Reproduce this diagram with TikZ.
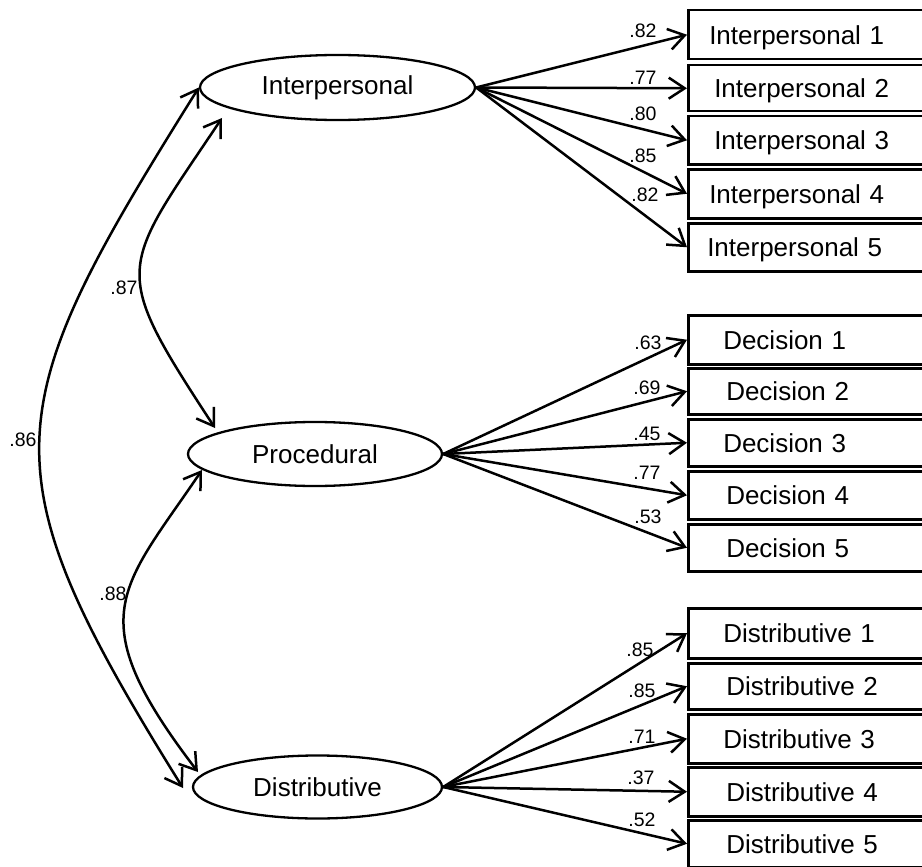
\documentclass[tikz,border=0pt]{standalone}
\usepackage{fontspec}
\setmainfont{Liberation Sans}
\usetikzlibrary{arrows.meta,shapes.geometric}
\begin{document}
\begin{tikzpicture}[x=1pt,y=-1pt,
  lat/.style={draw, ellipse, line width=2.3pt, inner sep=0pt, font=\fontsize{26}{30}\selectfont},
  box/.style n args={2}{draw, line width=2.5pt, anchor=north west, inner ysep=0pt,
     inner xsep=#1pt, text width=200pt, align=left, minimum height=#2pt,
     text depth=0pt, font=\fontsize{26}{30}\selectfont},
  lbl/.style={font=\fontsize{19.5}{21}\selectfont, inner sep=0pt},
  tipa/.tip={Straight Barb[length=16pt, width=21pt]},
  load/.style={line width=2.5pt, -tipa},
  cov/.style={line width=2.5pt, tipa-tipa}
]
\useasboundingbox (0,0) rectangle (922,867);
\clip (0,0) rectangle (922,867);

% latent variables
\node[lat, minimum width=275pt, minimum height=65pt] (int) at (337.5,87.5) {Interpersonal};
\node[lat, minimum width=254pt, minimum height=64pt] (pro) at (315,454) {Procedural};
\node[lat, minimum width=249pt, minimum height=63pt] (dis) at (317.5,787) {Distributive};

% indicators
\node[box={21}{49}] (i1) at (687,9)   {Interpersonal 1};
\node[box={26}{46}] (i2) at (687,64)  {Interpersonal 2};
\node[box={26}{48}] (i3) at (687,115) {Interpersonal 3};
\node[box={21}{49}] (i4) at (687,168) {Interpersonal 4};
\node[box={19}{48}] (i5) at (687,222) {Interpersonal 5};

\node[box={35}{49}] (d1) at (687,314) {Decision 1};
\node[box={38}{46}] (d2) at (687,367) {Decision 2};
\node[box={35}{47}] (d3) at (687,418) {Decision 3};
\node[box={38}{48}] (d4) at (687,470) {Decision 4};
\node[box={38}{47}] (d5) at (687,523) {Decision 5};

\node[box={35}{50}] (s1) at (687,607) {Distributive 1};
\node[box={38}{46}] (s2) at (687,662) {Distributive 2};
\node[box={35}{49}] (s3) at (687,713) {Distributive 3};
\node[box={38}{49}] (s4) at (687,766) {Distributive 4};
\node[box={38}{47}] (s5) at (687,819) {Distributive 5};

% loadings
\draw[load] (int.east) -- (i1.west) node[lbl] at (643,31)  {.82};
\draw[load] (int.east) -- (i2.west) node[lbl] at (643,78)  {.77};
\draw[load] (int.east) -- (i3.west) node[lbl] at (643,114) {.80};
\draw[load] (int.east) -- (i4.west) node[lbl] at (643,156) {.85};
\draw[load] (int.east) -- (i5.west) node[lbl] at (645,195) {.82};

\draw[load] (pro.east) -- (d1.west) node[lbl] at (648,343) {.63};
\draw[load] (pro.east) -- (d2.west) node[lbl] at (647,388) {.69};
\draw[load] (pro.east) -- (d3.west) node[lbl] at (647,434) {.45};
\draw[load] (pro.east) -- (d4.west) node[lbl] at (647,473) {.77};
\draw[load] (pro.east) -- (d5.west) node[lbl] at (648,517) {.53};

\draw[load] (dis.east) -- (s1.west) node[lbl] at (640,650) {.85};
\draw[load] (dis.east) -- (s2.west) node[lbl] at (642,691) {.85};
\draw[load] (dis.east) -- (s3.west) node[lbl] at (642,737) {.71};
\draw[load] (dis.east) -- (s4.west) node[lbl] at (641,778) {.37};
\draw[load] (dis.east) -- (s5.west) node[lbl] at (642,820) {.52};

% covariances
\coordinate (c86b) at (183,788);
\coordinate (c87a) at (222,118);
\coordinate (c87b) at (215,428);
\coordinate (c88a) at (202,470);
\coordinate (c88b) at (198,772);

\draw[cov] (int.west) .. controls (-3,410) and (-18,466) .. (c86b);
\node[lbl] (l86) at (23,440) {.86};
\draw[cov] (c87a) .. controls (119,272) and (109,266) .. (c87b);
\node[lbl] (l87) at (124,288) {.87};
\draw[cov] (c88a) .. controls (121.5,589) and (78.5,616) .. (c88b);
\node[lbl] (l88) at (113,594) {.88};
\end{tikzpicture}
\end{document}
